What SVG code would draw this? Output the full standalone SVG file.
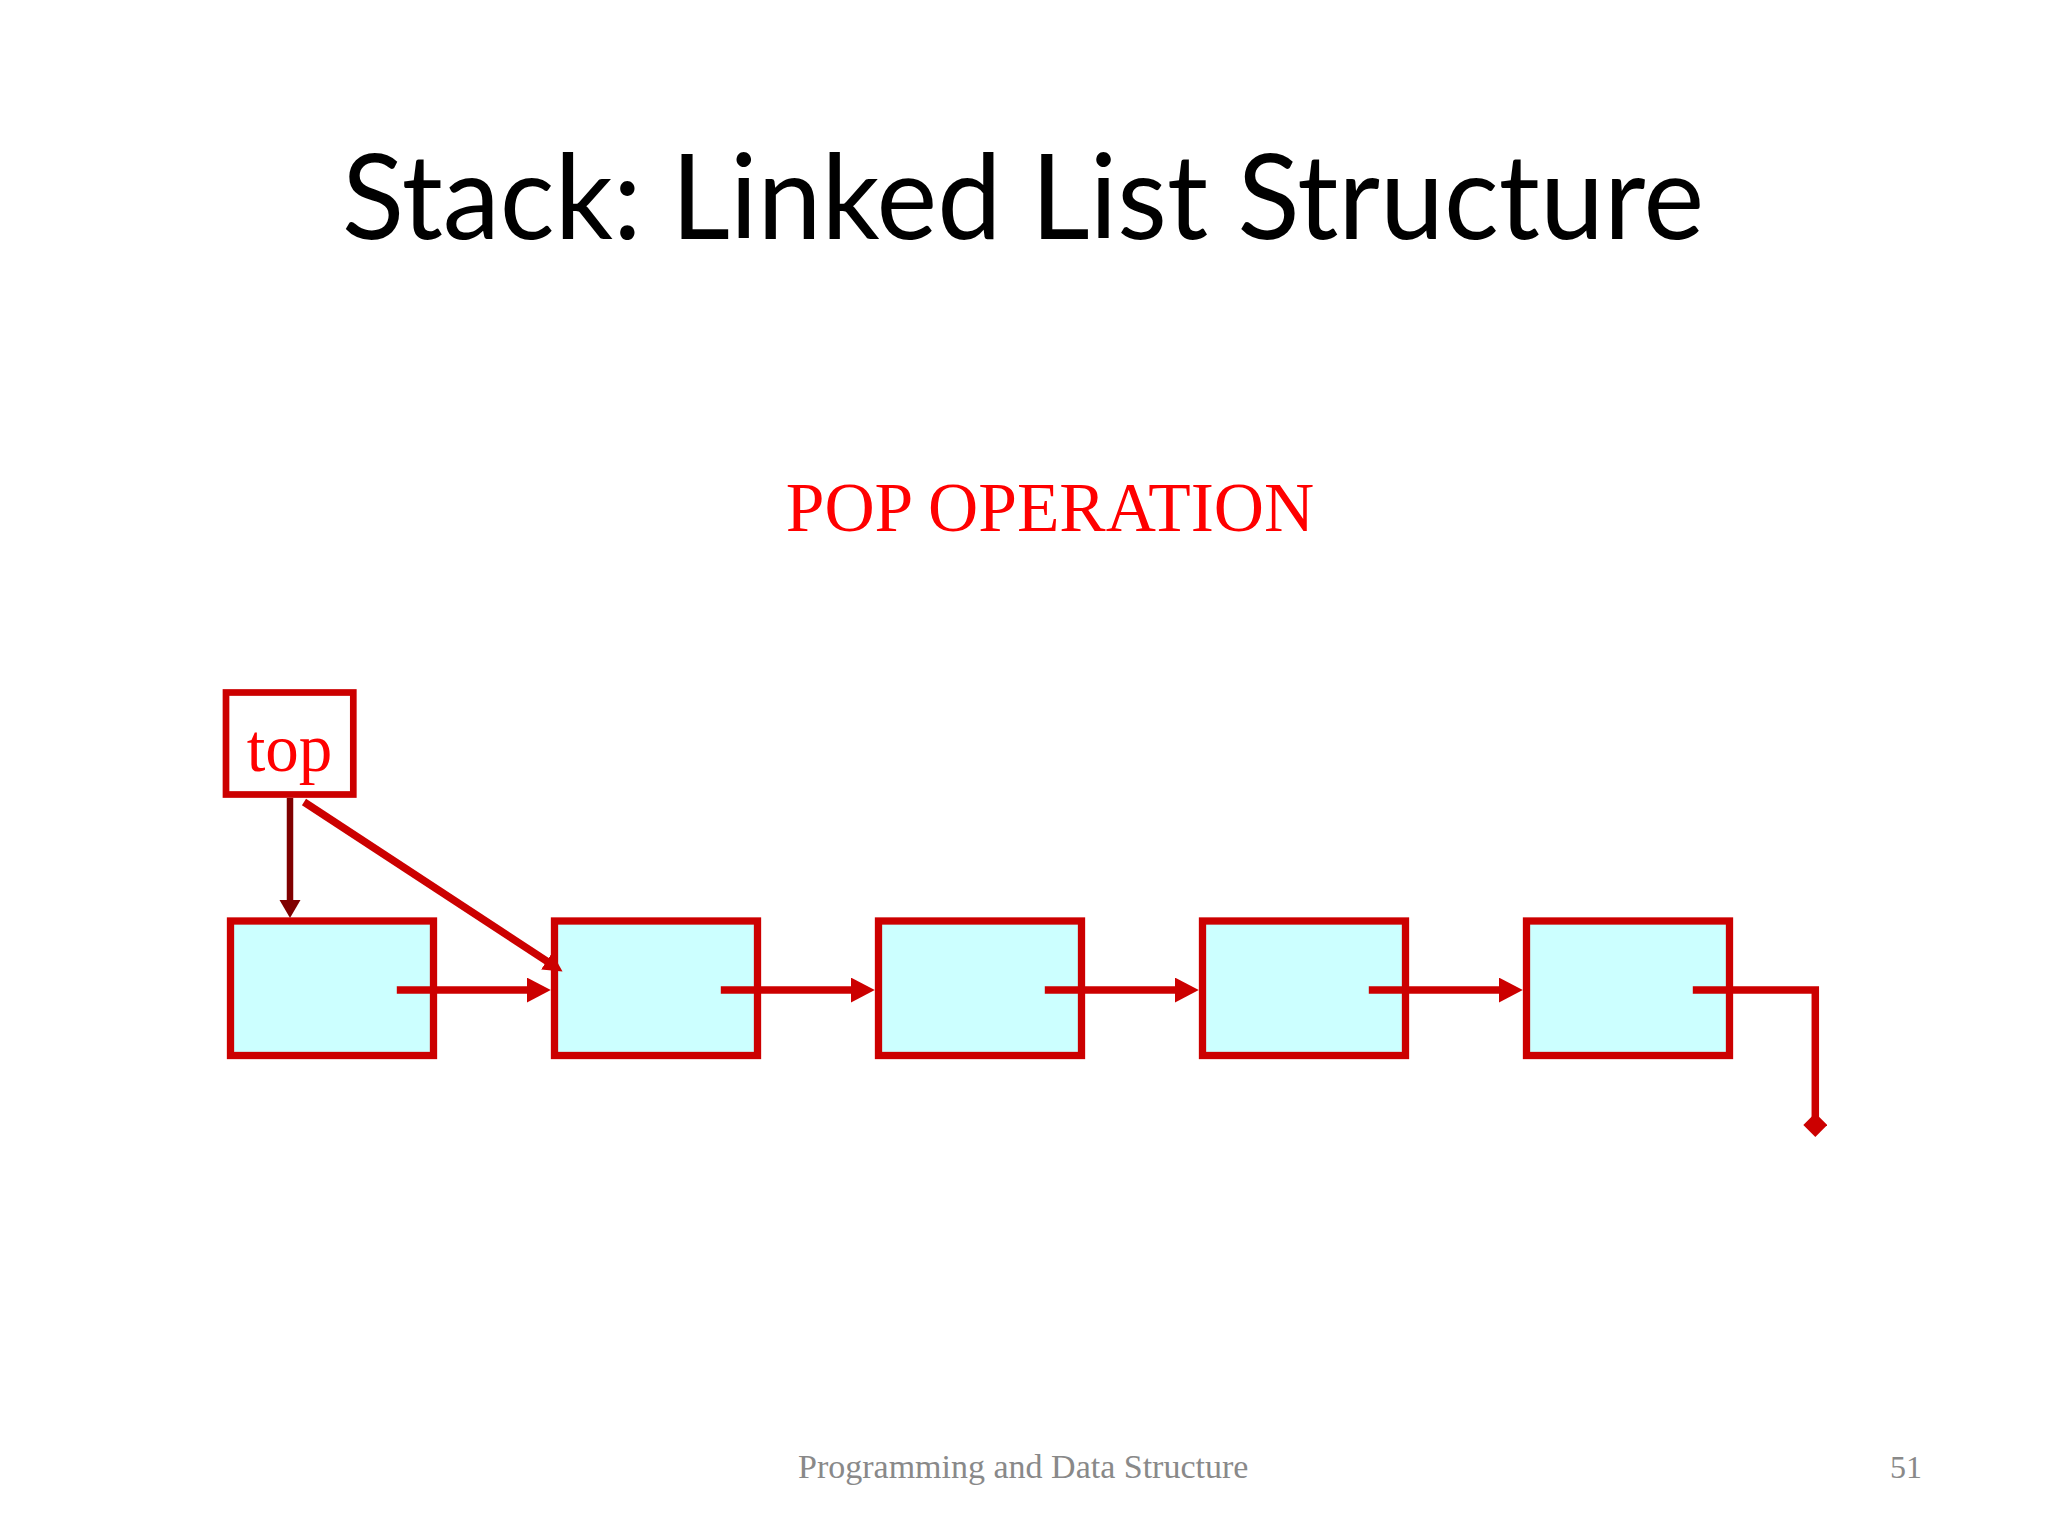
<svg xmlns="http://www.w3.org/2000/svg" width="2048" height="1536" viewBox="0 0 2048 1536">
  <style>
    .node { fill: #CCFFFF; stroke: #CC0000; stroke-width: 7.3; }
    .topbox { fill: #FFFFFF; stroke: #CC0000; stroke-width: 6.7; }
    .link { fill: none; stroke: #CC0000; stroke-width: 7.5; stroke-linejoin: miter; }
    .toplink { fill: none; stroke: #800000; stroke-width: 6.5; }
    .serif { font-family: "Liberation Serif", "Times New Roman", serif; }
  </style>
  <defs>
    <marker id="arrowRed" markerUnits="userSpaceOnUse" markerWidth="26" markerHeight="26" refX="2" refY="12.5" orient="auto">
      <path d="M0,0 L24,12.5 L0,25 z" fill="#CC0000"/>
    </marker>
    <marker id="arrowDiag" markerUnits="userSpaceOnUse" markerWidth="22" markerHeight="22" refX="2" refY="10" orient="auto">
      <path d="M0,0 L19,10 L0,20 z" fill="#CC0000"/>
    </marker>
    <marker id="arrowDark" markerUnits="userSpaceOnUse" markerWidth="22" markerHeight="22" refX="2" refY="10.5" orient="auto">
      <path d="M0,0 L18,10.5 L0,21 z" fill="#800000"/>
    </marker>
    <marker id="nullEnd" markerUnits="userSpaceOnUse" markerWidth="26" markerHeight="26" refX="12" refY="12" orient="auto">
      <path d="M0,12 L12,0 L24,12 L12,24 z" fill="#CC0000"/>
    </marker>
  </defs>

  <rect x="0" y="0" width="2048" height="1536" fill="#FFFFFF"/>

  <text x="342" y="239" font-family="Lato, 'Open Sans', sans-serif" font-size="118" fill="#000000" textLength="1362" lengthAdjust="spacingAndGlyphs">Stack: Linked List Structure</text>

  <text class="serif" x="1050" y="531" font-size="69.5" fill="#FF0000" text-anchor="middle">POP OPERATION</text>

  <g id="top">
    <rect class="topbox" x="226" y="692.5" width="127.3" height="102"/>
    <text class="serif" x="289.5" y="771" font-size="67" fill="#FF0000" text-anchor="middle">top</text>
  </g>

  <g id="node1"><rect class="node" x="230.5" y="921" width="203" height="134.5"/></g>
  <g id="node2"><rect class="node" x="554.5" y="921" width="203" height="134.5"/></g>
  <g id="node3"><rect class="node" x="878.5" y="921" width="203" height="134.5"/></g>
  <g id="node4"><rect class="node" x="1202.5" y="921" width="203" height="134.5"/></g>
  <g id="node5"><rect class="node" x="1526.5" y="921" width="203" height="134.5"/></g>

  <g id="connectors">
    <line class="toplink" x1="290" y1="798" x2="290" y2="902" marker-end="url(#arrowDark)"/>
    <line class="link" x1="304" y1="802" x2="548.3" y2="962.2" marker-end="url(#arrowDiag)"/>
    <line class="link" x1="396.8" y1="990" x2="528.8" y2="990" marker-end="url(#arrowRed)"/>
    <line class="link" x1="720.8" y1="990" x2="852.8" y2="990" marker-end="url(#arrowRed)"/>
    <line class="link" x1="1044.8" y1="990" x2="1176.8" y2="990" marker-end="url(#arrowRed)"/>
    <line class="link" x1="1368.8" y1="990" x2="1500.8" y2="990" marker-end="url(#arrowRed)"/>
    <path class="link" d="M1692.8,990 H1815.3 V1125" marker-end="url(#nullEnd)"/>
  </g>

  <text class="serif" x="798" y="1478" font-size="34" fill="#898989">Programming and Data Structure</text>
  <text class="serif" x="1922" y="1478" font-size="32" fill="#898989" text-anchor="end">51</text>
</svg>
